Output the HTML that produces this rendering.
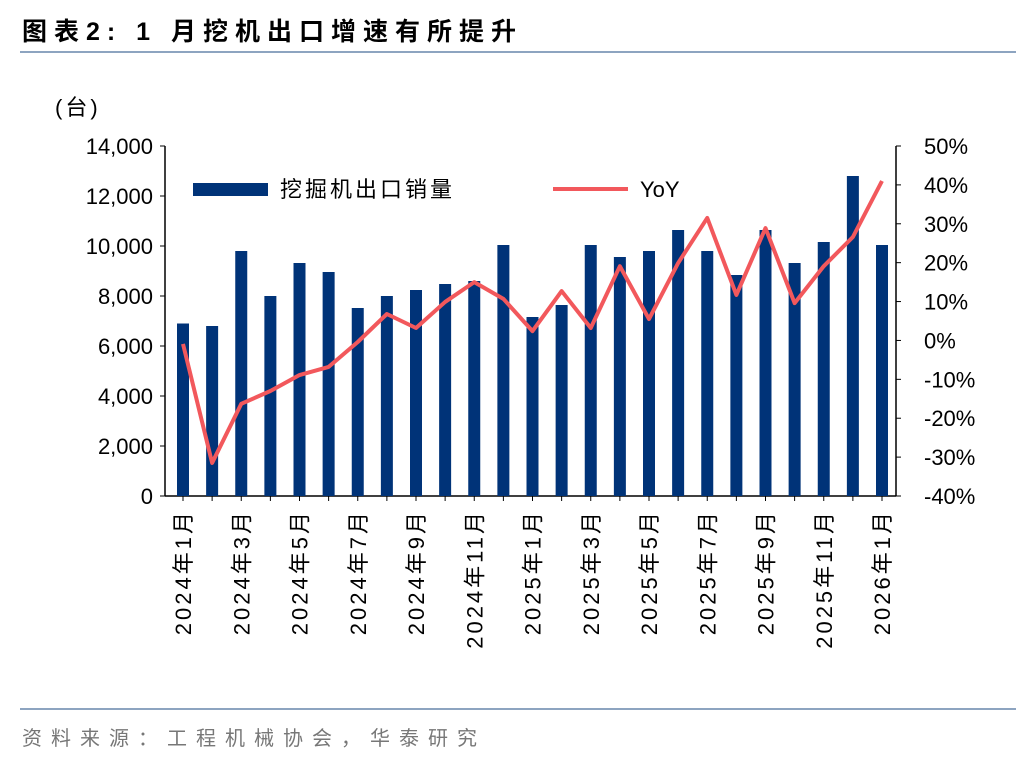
<!DOCTYPE html>
<html><head><meta charset="utf-8"><style>
body{margin:0;background:#fff;}
svg text{font-family:"Liberation Sans","Noto Sans CJK SC",sans-serif;}
</style></head><body>
<svg id="c" width="1036" height="760" xmlns="http://www.w3.org/2000/svg">
<text x="22" y="40" font-size="25" font-weight="bold" fill="#000" letter-spacing="7">图表2:  1 月挖机出口增速有所提升</text>
<line x1="20" y1="52" x2="1016" y2="52" stroke="#8da4c0" stroke-width="2"/>
<line x1="20" y1="709" x2="1016" y2="709" stroke="#8da4c0" stroke-width="2"/>
<text x="22" y="745" font-size="20" fill="#777" letter-spacing="9">资料来源：工程机械协会，华泰研究</text>
<text x="55" y="115" font-size="22" fill="#000" letter-spacing="3">(台)</text>
<g id="plot"></g>
</svg>
<script>
const categories=["2024年1月","2024年2月","2024年3月","2024年4月","2024年5月","2024年6月","2024年7月","2024年8月","2024年9月","2024年10月","2024年11月","2024年12月","2025年1月","2025年2月","2025年3月","2025年4月","2025年5月","2025年6月","2025年7月","2025年8月","2025年9月","2025年10月","2025年11月","2025年12月","2026年1月"];
const exportsSales=[6900,6800,9800,8000,9320,8960,7520,8000,8240,8480,8600,10040,7160,7640,10040,9560,9800,10640,9800,8840,10640,9320,10160,12800,10040];
const yoy=[-0.9,-31.5,-16.3,-13,-8.9,-6.8,-0.4,6.8,3.2,9.9,15,10.7,2.4,12.7,3.2,19.1,5.5,19.9,31.5,11.7,28.9,9.6,19.1,26.6,41];
const leftTicks=[0,2000,4000,6000,8000,10000,12000,14000];
const rightTicks=[-40,-30,-20,-10,0,10,20,30,40,50];

const NS="http://www.w3.org/2000/svg";
const g=document.getElementById('plot');
const X0=165,X1=896,Y0=496,Y1=146;
const xAt=i=>183+i*(882-183)/(categories.length-1);
const yL=v=>Y0-(v/14000)*(Y0-Y1);
const yR=v=>Y0-((v+40)/90)*(Y0-Y1);
function mk(tag,attrs,txt){const e=document.createElementNS(NS,tag);for(const k in attrs)e.setAttribute(k,attrs[k]);if(txt!==undefined)e.textContent=txt;g.appendChild(e);return e;}

let e;
e=mk('line',{x1:X0,y1:Y1,x2:X0,y2:Y0,stroke:'#000','stroke-width':1.5});

e=mk('line',{x1:X1,y1:Y1,x2:X1,y2:Y0,stroke:'#000','stroke-width':1.5});

e=mk('line',{x1:X0,y1:Y0,x2:X1,y2:Y0,stroke:'#000','stroke-width':1.5});


leftTicks.forEach(t=>{
  const y=yL(t);
  e=mk('line',{x1:X0-5,y1:y,x2:X0,y2:y,stroke:'#000'});
  
  e=mk('text',{x:X0-12,y:y+8,'text-anchor':'end','font-size':22,fill:'#000'},t.toLocaleString('en-US'));
  
});
rightTicks.forEach(t=>{
  const y=yR(t);
  e=mk('line',{x1:X1,y1:y,x2:X1+5,y2:y,stroke:'#000'});
  
  e=mk('text',{x:X1+28,y:y+8,'font-size':22,fill:'#000'},t+'%');
  
});

exportsSales.forEach((v,i)=>{
  const x=xAt(i);
  e=mk('rect',{x:x-6,y:yL(v),width:12,height:Y0-yL(v),fill:'#003378'});
  
});
categories.forEach((c,i)=>{
  const x=xAt(i);
  e=mk('line',{x1:x,y1:Y0,x2:x,y2:Y0+5,stroke:'#000'});
  
  if(i%2===0){
    e=mk('text',{x:0,y:0,'text-anchor':'end','font-size':22,fill:'#000','letter-spacing':3,transform:`translate(${x+8},509) rotate(-90)`},c);
    
  }
});
e=mk('polyline',{points:yoy.map((v,i)=>xAt(i)+','+yR(v)).join(' '),fill:'none',stroke:'#f2585c','stroke-width':4,'stroke-linejoin':'round'});


e=mk('rect',{x:193,y:183,width:75,height:13,fill:'#003378'});

e=mk('text',{x:280,y:197,'font-size':22,fill:'#000','letter-spacing':3},'挖掘机出口销量');

e=mk('line',{x1:553,y1:189,x2:628,y2:189,stroke:'#f2585c','stroke-width':4});

e=mk('text',{x:640,y:197,'font-size':22,fill:'#000'},'YoY');

</script>
</body></html>
